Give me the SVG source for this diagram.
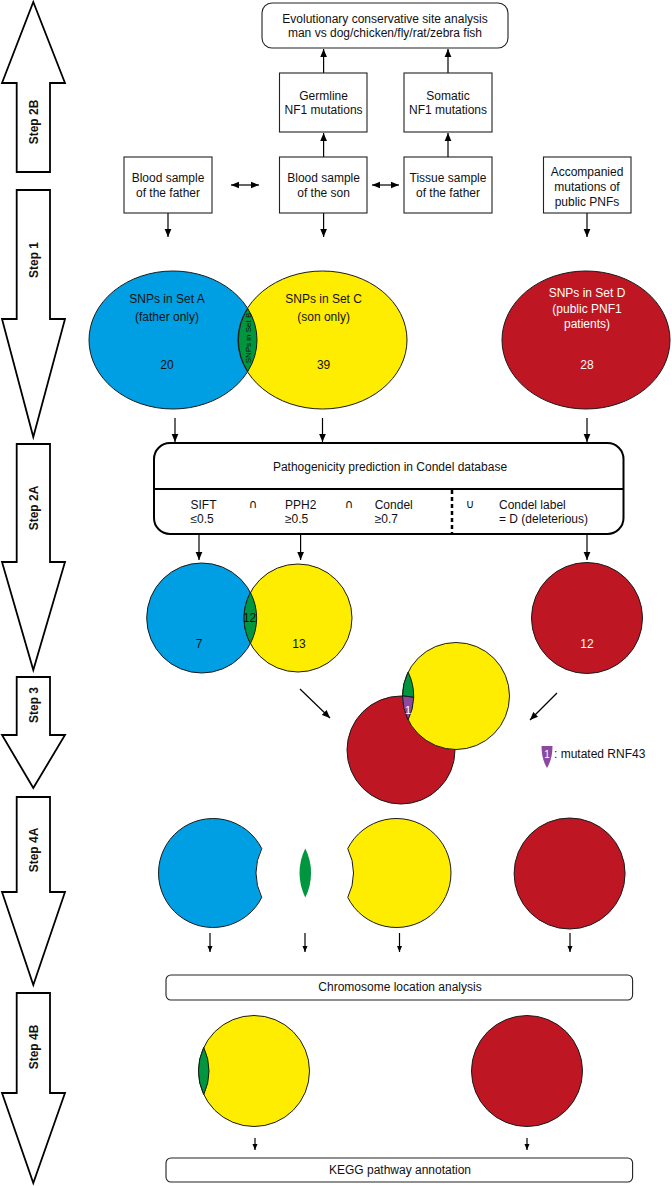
<svg xmlns="http://www.w3.org/2000/svg" width="672" height="1186" viewBox="0 0 672 1186">
<style>
text{font-family:"Liberation Sans",Arial,sans-serif;font-size:12px;fill:#111;}
.c{text-anchor:middle;}
.sym{font-family:"DejaVu Sans","Liberation Sans",sans-serif;font-size:12px;text-anchor:middle;fill:#111;}
.lab{font-weight:bold;font-size:12px;text-anchor:middle;}
.w{fill:#fff;}
.step{fill:#fff;stroke:#000;stroke-width:1.8;stroke-linejoin:miter;}
.box{fill:#fff;stroke:#222;stroke-width:1.1;}
.ln{stroke:#000;stroke-width:1.2;fill:none;}
.cir{stroke:#1a1a1a;stroke-width:1;}
.blue{fill:#009FE3;}
.yel{fill:#FFED00;}
.grn{fill:#009640;}
.red{fill:#BE1622;}
.pur{fill:#8B4AA0;}
</style>
<defs>
<marker id="ah" viewBox="0 0 10 10" refX="10" refY="5" markerWidth="8" markerHeight="8" orient="auto-start-reverse" markerUnits="userSpaceOnUse"><path d="M0,0.8 L10,5 L0,9.2 z" fill="#000"/></marker>
<marker id="ahs" viewBox="0 0 10 10" refX="10" refY="5" markerWidth="6" markerHeight="6" orient="auto-start-reverse" markerUnits="userSpaceOnUse"><path d="M0,0.8 L10,5 L0,9.2 z" fill="#000"/></marker>
</defs>

<g id="step-arrows">
<g id="step2b"><path class="step" d="M33.3,2 L65,83 L50,83 L50,172 L16.7,172 L16.7,83 L2,83 Z"/><text class="lab" transform="translate(37.5,122) rotate(-90)">Step 2B</text></g>
<g id="step1"><path class="step" d="M16.7,190 L50,190 L50,319 L65,319 L33.3,437 L2,319 L16.7,319 Z"/><text class="lab" transform="translate(37.5,260) rotate(-90)">Step 1</text></g>
<g id="step2a"><path class="step" d="M16.7,444 L50,444 L50,562 L65,562 L33.3,670 L2,562 L16.7,562 Z"/><text class="lab" transform="translate(37.5,508) rotate(-90)">Step 2A</text></g>
<g id="step3"><path class="step" d="M16.7,677 L50,677 L50,735 L65,735 L33.3,788 L2,735 L16.7,735 Z"/><text class="lab" transform="translate(37.5,705) rotate(-90)">Step 3</text></g>
<g id="step4a"><path class="step" d="M16.7,797 L50,797 L50,892 L65,892 L33.3,985 L2,892 L16.7,892 Z"/><text class="lab" transform="translate(37.5,850) rotate(-90)">Step 4A</text></g>
<g id="step4b"><path class="step" d="M16.7,993 L50,993 L50,1093 L65,1093 L33.3,1183 L2,1093 L16.7,1093 Z"/><text class="lab" transform="translate(37.5,1047) rotate(-90)">Step 4B</text></g>
</g>

<g id="connectors">
<line class="ln" x1="323.6" y1="73" x2="323.6" y2="49" marker-end="url(#ah)"/>
<line class="ln" x1="448" y1="73" x2="448" y2="49" marker-end="url(#ah)"/>
<line class="ln" x1="323.6" y1="157" x2="323.6" y2="133" marker-end="url(#ah)"/>
<line class="ln" x1="448" y1="157" x2="448" y2="133" marker-end="url(#ah)"/>
<line class="ln" x1="231" y1="185" x2="259" y2="185" marker-start="url(#ah)" marker-end="url(#ah)"/>
<line class="ln" x1="372" y1="185" x2="399" y2="185" marker-start="url(#ah)" marker-end="url(#ah)"/>
<line class="ln" x1="168" y1="213" x2="168" y2="237" marker-end="url(#ah)"/>
<line class="ln" x1="323.6" y1="213" x2="323.6" y2="237" marker-end="url(#ah)"/>
<line class="ln" x1="587" y1="213" x2="587" y2="237" marker-end="url(#ah)"/>
<line class="ln" x1="175" y1="418" x2="175" y2="442" marker-end="url(#ah)"/>
<line class="ln" x1="322.5" y1="418" x2="322.5" y2="442" marker-end="url(#ah)"/>
<line class="ln" x1="587" y1="418" x2="587" y2="442" marker-end="url(#ah)"/>
<line class="ln" x1="199" y1="535" x2="199" y2="560" marker-end="url(#ah)"/>
<line class="ln" x1="300.6" y1="535" x2="300.6" y2="560" marker-end="url(#ah)"/>
<line class="ln" x1="587" y1="535" x2="587" y2="560" marker-end="url(#ah)"/>
<line class="ln" x1="300" y1="689" x2="330" y2="718" marker-end="url(#ah)"/>
<line class="ln" x1="557" y1="693" x2="530" y2="720" marker-end="url(#ah)"/>
<line class="ln" x1="210" y1="933" x2="210" y2="952" marker-end="url(#ahs)"/>
<line class="ln" x1="305" y1="933" x2="305" y2="952" marker-end="url(#ahs)"/>
<line class="ln" x1="399.5" y1="933" x2="399.5" y2="952" marker-end="url(#ahs)"/>
<line class="ln" x1="570" y1="933" x2="570" y2="952" marker-end="url(#ahs)"/>
<line class="ln" x1="255" y1="1138" x2="255" y2="1150" marker-end="url(#ahs)"/>
<line class="ln" x1="527" y1="1138" x2="527" y2="1150" marker-end="url(#ahs)"/>
</g>

<g id="evol"><rect class="box" x="262" y="3" width="246" height="45" rx="10"/><text class="c" x="385" y="23.3">Evolutionary conservative site analysis</text><text class="c" x="385" y="37.3">man vs dog/chicken/fly/rat/zebra fish</text></g>
<g id="germline"><rect class="box" x="279.5" y="73" width="87.5" height="59"/><text class="c" x="323.6" y="100.3">Germline</text><text class="c" x="323.6" y="114.3">NF1 mutations</text></g>
<g id="somatic"><rect class="box" x="404" y="73" width="88" height="59"/><text class="c" x="448" y="100.3">Somatic</text><text class="c" x="448" y="114.3">NF1 mutations</text></g>
<g id="father"><rect class="box" x="124" y="157" width="88" height="56"/><text class="c" x="168" y="182.3">Blood sample</text><text class="c" x="168" y="197.3">of the father</text></g>
<g id="son"><rect class="box" x="279.5" y="157" width="87.5" height="56"/><text class="c" x="323.6" y="182.3">Blood sample</text><text class="c" x="323.6" y="197.3">of the son</text></g>
<g id="tissue"><rect class="box" x="404" y="157" width="88" height="56"/><text class="c" x="448" y="182.3">Tissue sample</text><text class="c" x="448" y="197.3">of the father</text></g>
<g id="public"><rect class="box" x="543.5" y="157" width="87.5" height="56"/><text class="c" x="587" y="176.3">Accompanied</text><text class="c" x="587" y="191.3">mutations of</text><text class="c" x="587" y="206.3">public PNFs</text></g>

<g id="step1-sets">
<ellipse class="cir blue" cx="173" cy="340" rx="84" ry="69"/>
<ellipse class="cir yel" cx="322.5" cy="340" rx="84.5" ry="69"/>
<path class="cir grn" d="M247.75,308.5 A84,69 0 0 1 247.75,371.5 A84.5,69 0 0 1 247.75,308.5 Z"/>
<text x="0" y="0" style="font-size:8px" class="c" transform="translate(250.8,338) rotate(-90)">SNPs in Set B</text>
<text class="c" x="167" y="303.3">SNPs in Set A</text><text class="c" x="167" y="321">(father only)</text><text class="c" x="167" y="369.3">20</text>
<text class="c" x="323.6" y="303.3">SNPs in Set C</text><text class="c" x="323.6" y="321">(son only)</text><text class="c" x="323.6" y="369.3">39</text>
<ellipse class="cir red" cx="586" cy="340" rx="84" ry="69"/>
<text class="c w" x="587" y="296.6">SNPs in Set D</text><text class="c w" x="587" y="312.6">(public PNF1</text><text class="c w" x="587" y="328.3">patients)</text><text class="c w" x="587" y="369.3">28</text>
</g>

<g id="condel">
<rect x="154" y="443" width="469.5" height="91" rx="16" fill="#fff" stroke="#000" stroke-width="2"/>
<line x1="154" y1="489" x2="623.5" y2="489" stroke="#000" stroke-width="2"/>
<line x1="452" y1="490" x2="452" y2="534" stroke="#000" stroke-width="2.5" stroke-dasharray="4 3"/>
<text class="c" x="390" y="471">Pathogenicity prediction in Condel database</text>
<text x="190.5" y="509">SIFT</text><text x="190.5" y="523">≤0.5</text>
<text class="sym" x="253" y="508">∩</text>
<text x="285" y="509">PPH2</text><text x="285" y="523">≥0.5</text>
<text class="sym" x="349" y="508">∩</text>
<text x="374.7" y="509">Condel</text><text x="374.7" y="523">≥0.7</text>
<text class="sym" x="470" y="508">∪</text>
<text x="499" y="509">Condel label</text><text x="499" y="523">= D (deleterious)</text>
</g>

<g id="step2a-sets">
<circle class="cir blue" cx="201.7" cy="618" r="55"/>
<circle class="cir yel" cx="298" cy="618" r="54"/>
<path class="cir grn" d="M250.4,592.5 A55,55 0 0 1 250.4,643.5 A54,54 0 0 1 250.4,592.5 Z"/>
<text class="c" x="249.6" y="622.3">12</text>
<text class="c" x="199" y="648.3">7</text>
<text class="c" x="299" y="648.3">13</text>
<circle class="cir red" cx="587" cy="618" r="55.5"/>
<text class="c w" x="587" y="648.3">12</text>
</g>

<g id="step3-sets">
<circle class="cir red" cx="401" cy="750" r="54"/>
<circle class="cir yel" cx="456" cy="696" r="53.5"/>
<path class="cir grn" d="M408.1,672.1 A54,54 0 0 1 413.7,697.5 A54,54 0 0 0 402.5,696 A53.5,53.5 0 0 1 408.1,672.1 Z"/>
<path class="cir pur" d="M402.5,696 A54,54 0 0 1 413.7,697.5 A54,54 0 0 1 408.1,719.9 A53.5,53.5 0 0 1 402.5,696 Z"/>
<text class="c w" x="408" y="714" style="font-size:11px">1</text>
</g>

<g id="legend">
<path class="pur" d="M541.5,746 L552.5,746 Q552.5,759 547,768 Q541.5,759 541.5,746 Z"/>
<text class="c w" x="547" y="757.5" style="font-size:10px">1</text>
<text x="554" y="758.3">: mutated RNF43</text>
</g>

<g id="step4a-sets">
<path class="cir blue" d="M261.75,848.6 A54.5,54.5 0 1 0 261.75,897.4 A54.5,54.5 0 0 1 261.75,848.6 Z"/>
<path class="grn" d="M305.3,848.6 A54.5,54.5 0 0 1 305.3,897.4 A54.5,54.5 0 0 1 305.3,848.6 Z"/>
<path class="cir yel" d="M347.75,848.6 A54.5,54.5 0 1 1 347.75,897.4 A54.5,54.5 0 0 0 347.75,848.6 Z"/>
<circle class="cir red" cx="569.6" cy="873.5" r="55.5"/>
</g>

<g id="chromosome"><rect class="box" x="166" y="975" width="466.6" height="25" rx="5"/><text class="c" x="400" y="991.3">Chromosome location analysis</text></g>

<g id="step4b-sets">
<circle class="cir yel" cx="254" cy="1071" r="55.5"/>
<path class="cir grn" d="M203.75,1047.4 A55.5,55.5 0 0 1 203.75,1094.6 A55.5,55.5 0 0 1 203.75,1047.4 Z"/>
<circle class="cir red" cx="527" cy="1071" r="55.5"/>
</g>

<g id="kegg"><rect class="box" x="166" y="1158" width="466.6" height="24" rx="5"/><text class="c" x="400" y="1174.3">KEGG pathway annotation</text></g>
</svg>
